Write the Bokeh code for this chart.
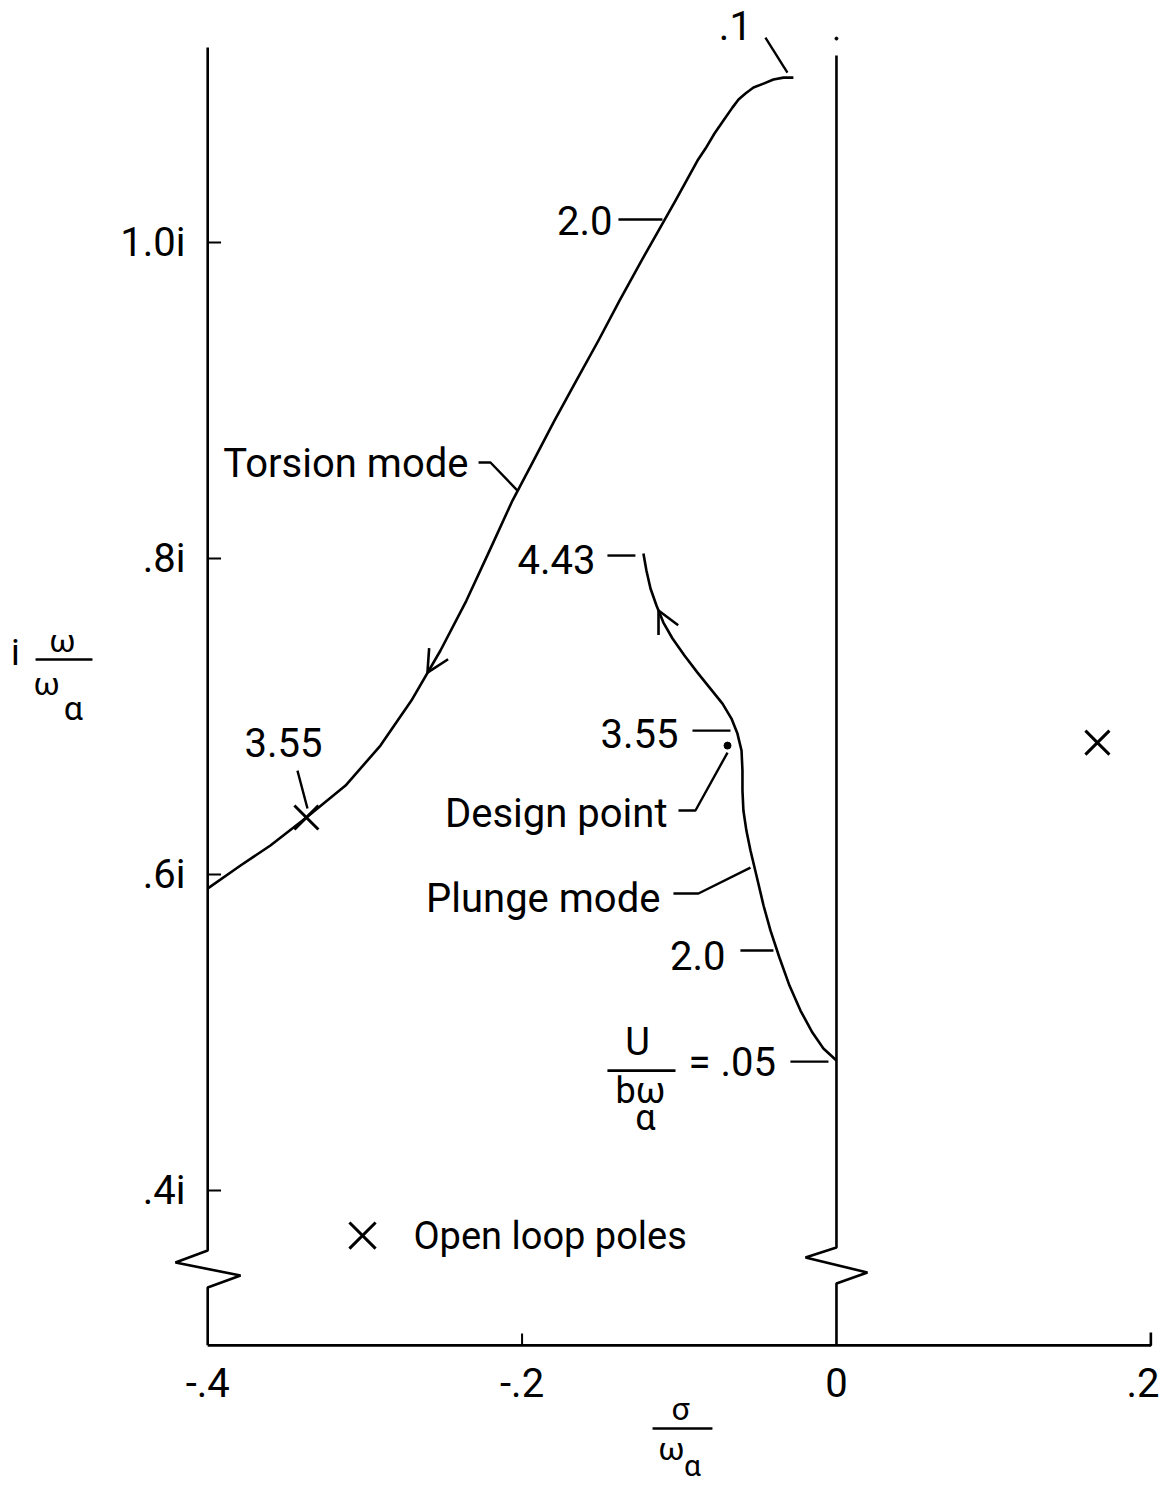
from bokeh.plotting import figure
from bokeh.models import Range1d, Arrow, OpenHead
from bokeh.core.properties import value
from bokeh.embed import file_html
from bokeh.resources import INLINE

FONT = "Roboto"

# ---------------- data ----------------
# Torsion mode root locus (sigma/omega_a, omega/omega_a), from U/(b w_a)=.1 downwards
torsion_x = [-0.0274, -0.0337, -0.0401, -0.0464, -0.0528, -0.0579, -0.0623, -0.0662,
             -0.0719, -0.0776, -0.0833, -0.0884, -0.0954, -0.1024, -0.1113, -0.1240,
             -0.1380, -0.1514, -0.1654, -0.1794, -0.1927, -0.2061, -0.2201, -0.2354,
             -0.2519, -0.2704, -0.2901, -0.3123, -0.3372, -0.3601, -0.3791, -0.4001]
torsion_y = [1.1044, 1.1044, 1.1032, 1.1006, 1.0981, 1.0943, 1.0905, 1.0854,
             1.0772, 1.0690, 1.0595, 1.0519, 1.0392, 1.0266, 1.0108, 0.9886,
             0.9633, 0.9380, 0.9127, 0.8873, 0.8620, 0.8367, 0.8063, 0.7734,
             0.7418, 0.7101, 0.6816, 0.6563, 0.6361, 0.6184, 0.6057, 0.5911]

# Plunge mode root locus, from U/(b w_a)=.05 upwards
plunge_x = [0.0, -0.0083, -0.0153, -0.0229, -0.0299, -0.0363, -0.0420, -0.0464, -0.0509,
            -0.0547, -0.0573, -0.0592, -0.0598, -0.0598, -0.0604, -0.0630, -0.0668,
            -0.0725, -0.0802, -0.0884, -0.0967, -0.1043, -0.1101, -0.1145, -0.1183,
            -0.1209, -0.1228]
plunge_y = [0.4823, 0.4899, 0.5000, 0.5139, 0.5297, 0.5475, 0.5646, 0.5804, 0.5994,
            0.6152, 0.6278, 0.6405, 0.6532, 0.6658, 0.6785, 0.6892, 0.6987,
            0.7082, 0.7177, 0.7278, 0.7386, 0.7494, 0.7595, 0.7703, 0.7810,
            0.7924, 0.8032]

# Open loop poles
pole_x = [-0.3372, 0.1660]
pole_y = [0.6361, 0.6835]

# Design point
design_x = [-0.0693]
design_y = [0.6816]

# Axis ticks and labels
y_ticks = [1.0, 0.8, 0.6, 0.4]
y_tick_labels = ["1.0i", ".8i", ".6i", ".4i"]
x_ticks = [-0.4, -0.2, 0.0, 0.2]
x_tick_labels = ["-.4", "-.2", "0", ".2"]
x_label_pos = [-0.4, -0.2, 0.0, 0.1950]

X_MIN, X_MAX = -0.4, 0.2
Y_BOTTOM, Y_TOP = 0.302, 1.1234
BREAK_Y = [0.3620, 0.3544, 0.3462, 0.3386]

# Annotations
labels_text = [".1", "2.0", "Torsion mode", "3.55", "4.43", "3.55", "Design point",
               "Plunge mode", "2.0", "= .05"]
labels_x = [-0.0643, -0.1425, -0.2341, -0.3518, -0.1533, -0.1005, -0.1075,
            -0.1120, -0.0706, -0.0941]
labels_y = [1.1373, 1.0139, 0.8601, 0.6835, 0.7994, 0.6892, 0.6386,
            0.5848, 0.5487, 0.4810]
labels_align = ["center", "right", "right", "center", "right", "right", "right",
                "right", "right", "left"]

# Leader lines (polylines)
leaders_x = [[-0.0452, -0.0312],
             [-0.1387, -0.1107],
             [-0.2277, -0.2201, -0.2029],
             [-0.3429, -0.3365],
             [-0.1457, -0.1279],
             [-0.0916, -0.0674],
             [-0.1005, -0.0897, -0.0693],
             [-0.1037, -0.0878, -0.0547],
             [-0.0611, -0.0401],
             [-0.0293, -0.0051]]
leaders_y = [[1.1297, 1.1076],
             [1.0146, 1.0146],
             [0.8608, 0.8608, 0.8430],
             [0.6658, 0.6418],
             [0.8019, 0.8019],
             [0.6911, 0.6911],
             [0.6405, 0.6405, 0.6772],
             [0.5880, 0.5880, 0.6044],
             [0.5519, 0.5519],
             [0.4816, 0.4816]]

# ---------------- figure ----------------
W, H = 1159, 1491
x0, x1 = -0.5318, 0.2055
y0, y1 = 0.2095, 1.1532

p = figure(width=W, height=H, output_backend="svg", toolbar_location=None,
           x_range=Range1d(x0, x1), y_range=Range1d(y0, y1),
           x_axis_location=None, y_axis_location=None, min_border=0)
p.grid.visible = False
p.outline_line_color = None
p.background_fill_color = "white"
p.border_fill_color = "white"

LW = 2.6
INK = "black"
TXT = dict(text_font=value(FONT), text_color=INK, text_baseline="middle")

# left axis with break
p.line([X_MIN, X_MIN, X_MIN - 0.0205, X_MIN + 0.0209, X_MIN, X_MIN],
       [Y_TOP, BREAK_Y[0], BREAK_Y[1], BREAK_Y[2], BREAK_Y[3], Y_BOTTOM],
       line_color=INK, line_width=LW)
# bottom axis
p.line([X_MIN, X_MAX, X_MAX], [Y_BOTTOM, Y_BOTTOM, Y_BOTTOM + 0.0082],
       line_color=INK, line_width=LW)
# imaginary axis (sigma = 0) with break
p.line([0, 0, -0.0197, 0.0197, 0, 0],
       [1.1184, 0.3639, 0.3576, 0.3481, 0.3411, Y_BOTTOM],
       line_color=INK, line_width=LW)
p.scatter([0], [1.1291], size=3, color=INK)

# y ticks (inward) and labels
p.segment(x0=[X_MIN] * len(y_ticks), y0=y_ticks, x1=[X_MIN + 0.0085] * len(y_ticks), y1=y_ticks,
          line_color=INK, line_width=2)
p.text(x=[X_MIN - 0.0141] * len(y_ticks), y=y_ticks, text=y_tick_labels,
       text_font_size="40px", text_align="right", **TXT)
# x tick at -0.2 (0 is the imaginary axis, 0.2 is the end hook)
p.segment(x0=[x_ticks[1]], y0=[Y_BOTTOM], x1=[x_ticks[1]], y1=[Y_BOTTOM + 0.0075],
          line_color=INK, line_width=2)
p.text(x=x_label_pos, y=[0.2785] * len(x_ticks), text=x_tick_labels,
       text_font_size="40px", text_align="center", **TXT)

# x-axis title  sigma / omega_alpha
p.text(x=[-0.0992], y=[0.2620], text=["σ"], text_font_size="32px", text_align="center", **TXT)
p.segment(x0=[-0.1170], y0=[0.2494], x1=[-0.0789], y1=[0.2494], line_color=INK, line_width=2.6)
p.text(x=[-0.1050], y=[0.2367], text=["ω"], text_font_size="32px", text_align="center", **TXT)
p.text(x=[-0.0916], y=[0.2262], text=["α"], text_font_size="30px", text_align="center", **TXT)

# y-axis title  i omega / omega_alpha
p.text(x=[-0.5223], y=[0.7399], text=["i"], text_font_size="36px", text_align="center", **TXT)
p.text(x=[-0.4924], y=[0.7481], text=["ω"], text_font_size="32px", text_align="center", **TXT)
p.segment(x0=[-0.5095], y0=[0.7361], x1=[-0.4733], y1=[0.7361], line_color=INK, line_width=2.6)
p.text(x=[-0.5025], y=[0.7209], text=["ω"], text_font_size="32px", text_align="center", **TXT)
p.text(x=[-0.4854], y=[0.7057], text=["α"], text_font_size="34px", text_align="center", **TXT)

# loci
p.line(torsion_x, torsion_y, line_color=INK, line_width=LW, line_join="round")
p.line(plunge_x, plunge_y, line_color=INK, line_width=LW, line_join="round")

# direction arrows
p.add_layout(Arrow(end=OpenHead(size=22, line_width=2.6, line_color=INK),
                   x_start=-0.2519, y_start=0.7418, x_end=-0.2602, y_end=0.7278,
                   line_alpha=0))
p.add_layout(Arrow(end=OpenHead(size=22, line_width=2.6, line_color=INK),
                   x_start=-0.1043, y_start=0.7494, x_end=-0.1132, y_end=0.7671,
                   line_alpha=0))

# open loop poles & design point
p.scatter(pole_x, pole_y, marker="x", size=34, line_width=3, line_color=INK)
p.scatter(design_x, design_y, size=7, color=INK)

# labels and leaders
p.text(x=labels_x, y=labels_y, text=labels_text, text_font_size="40px",
       text_align=labels_align, **TXT)
p.multi_line(leaders_x, leaders_y, line_color=INK, line_width=2.4)

# U / (b omega_alpha) fraction
p.text(x=[-0.1266], y=[0.4943], text=["U"], text_font_size="38px", text_align="center", **TXT)
p.segment(x0=[-0.1457], y0=[0.4759], x1=[-0.1024], y1=[0.4759], line_color=INK, line_width=2.6)
p.text(x=[-0.1406], y=[0.4633], text=["bω"], text_font_size="36px", text_align="left", **TXT)
p.text(x=[-0.1215], y=[0.4462], text=["α"], text_font_size="36px", text_align="center", **TXT)

# legend
p.scatter([-0.3015], [0.3715], marker="x", size=37, line_width=3, line_color=INK)
p.text(x=[-0.2691], y=[0.3715], text=["Open  loop poles"], text_font_size="38px",
       text_align="left", **TXT)

open("out.html", "w").write(file_html(p, INLINE))
